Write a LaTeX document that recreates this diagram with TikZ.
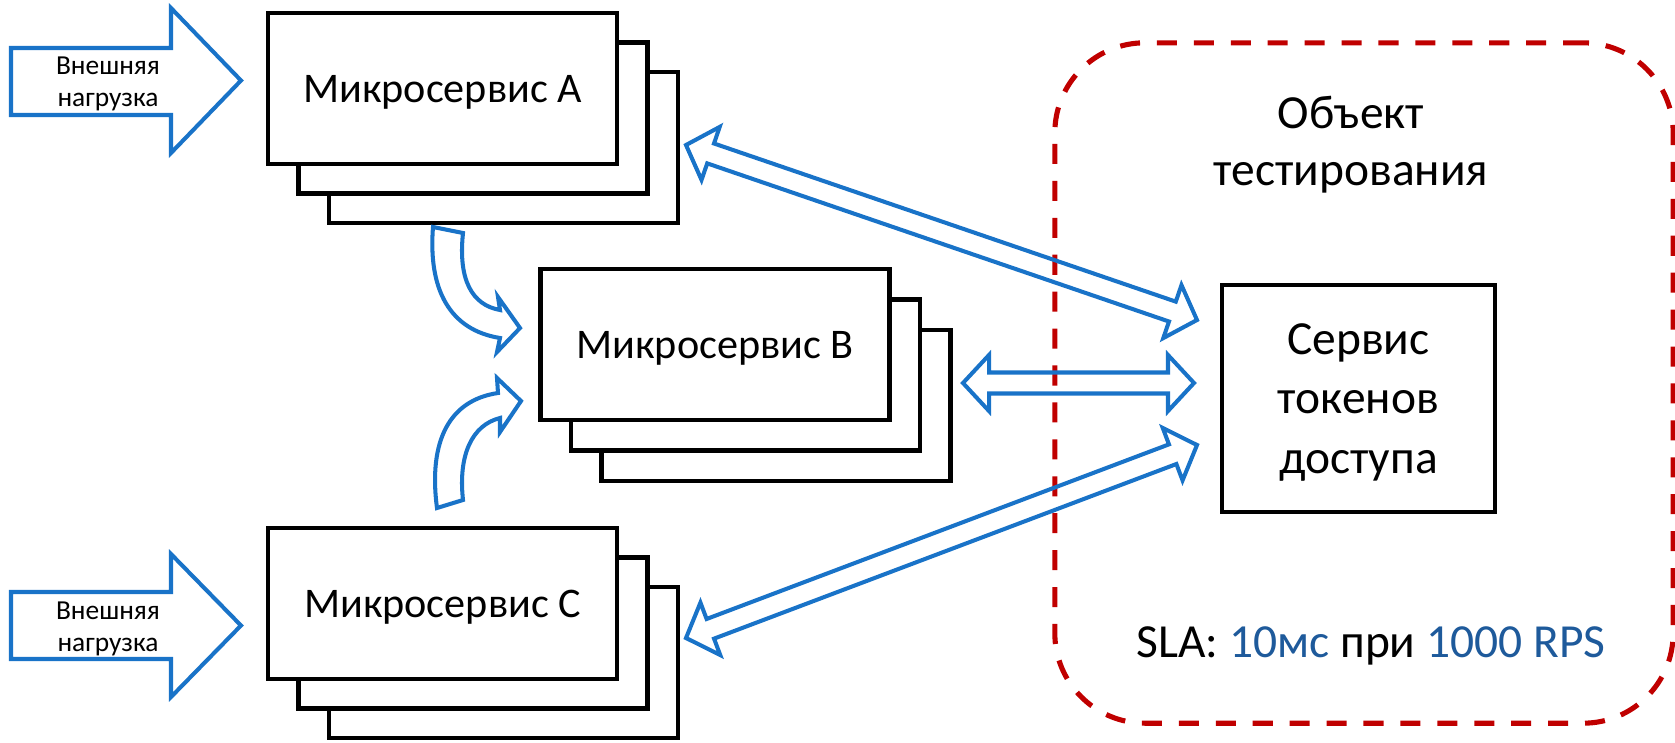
\documentclass[tikz,border=0pt]{standalone}
\usepackage{fontspec}
\setmainfont{Carlito}
\usetikzlibrary{positioning, calc}

\definecolor{loadblue}{RGB}{25,115,200}
\definecolor{slablue}{RGB}{30,90,155}
\definecolor{sutred}{RGB}{192,0,0}

\begin{document}
\begin{tikzpicture}[
        x=0.01cm, y=-0.01cm,
        service/.style={rectangle, draw, line width=1.3pt, fill=white, minimum width=3.49cm, minimum height=1.51cm, text depth=0pt, font=\fontsize{12}{14.4}\selectfont},
        tokensvc/.style={rectangle, draw, line width=1.3pt, minimum width=2.73cm, minimum height=2.27cm, align=center, text depth=0pt, font=\fontsize{13.5}{17}\selectfont},
        sutframe/.style={rectangle, draw=sutred, line width=1.45pt, dash pattern=on 5.7pt off 4.8pt, rounded corners=0.9cm, minimum width=6.18cm, minimum height=6.8cm},
        bigtext/.style={align=center, font=\fontsize{13.5}{16.2}\selectfont},
        loadtext/.style={align=center, font=\fontsize{7.8}{9.3}\selectfont},
        blockarrow/.style={draw=loadblue, line width=1.15pt, line join=miter},
        dblarrow/.style={blockarrow, to path={
            -- ($(\tikztostart)!0.26cm!(\tikztotarget)!0.28cm!90:(\tikztotarget)$)
            -- ($(\tikztostart)!0.26cm!(\tikztotarget)!0.105cm!90:(\tikztotarget)$)
            -- ($(\tikztotarget)!0.26cm!(\tikztostart)!0.105cm!-90:(\tikztostart)$)
            -- ($(\tikztotarget)!0.26cm!(\tikztostart)!0.28cm!-90:(\tikztostart)$)
            -- (\tikztotarget)
            -- ($(\tikztotarget)!0.26cm!(\tikztostart)!0.28cm!90:(\tikztostart)$)
            -- ($(\tikztotarget)!0.26cm!(\tikztostart)!0.105cm!90:(\tikztostart)$)
            -- ($(\tikztostart)!0.26cm!(\tikztotarget)!0.105cm!-90:(\tikztotarget)$)
            -- ($(\tikztostart)!0.26cm!(\tikztotarget)!0.28cm!-90:(\tikztotarget)$)
            -- cycle}}
    ]
        \useasboundingbox (0,0) rectangle (1675,742);

        % Object under test
        \node[sutframe] (sut) at (1364,383) {};
        \node[bigtext] (suttitle) at (1351,145) {Объект\\тестирования};
        \node[bigtext, anchor=base] (sla) at (1371,657) {SLA: \textcolor{slablue}{10мс} при \textcolor{slablue}{1000 RPS}};

        % Token service
        \node[tokensvc] (token) at (1358.5,398.5) {Сервис\\токенов\\доступа};

        % Microservice A
        \node[service] (svcaback) at (503.5,147.5) {};
        \node[service] (svcamid) at ($(svcaback)+(-30.5,-29.5)$) {};
        \node[service] (svca) at ($(svcamid)+(-30.5,-29.5)$) {Микросервис A};

        % Microservice B
        \node[service] (svcbback) at (776,405.5) {};
        \node[service] (svcbmid) at ($(svcbback)+(-30.5,-30.5)$) {};
        \node[service] (svcb) at ($(svcbmid)+(-30.5,-30.5)$) {Микросервис B};

        % Microservice C
        \node[service] (svccback) at (503.5,662.5) {};
        \node[service] (svccmid) at ($(svccback)+(-30.5,-29.5)$) {};
        \node[service] (svcc) at ($(svccmid)+(-30.5,-29.5)$) {Микросервис C};

        % External load
        \draw[blockarrow] (11,48) -- (171,48) -- (171,8) -- (241,80.5) -- (171,153) -- (171,115) -- (11,115) -- cycle;
        \node[loadtext] (loada) at (108,84) {Внешняя\\нагрузка};
        \draw[blockarrow] (11,592) -- (171,592) -- (171,554) -- (241,625.5) -- (171,697) -- (171,659) -- (11,659) -- cycle;
        \node[loadtext] (loadc) at (108,629) {Внешняя\\нагрузка};

        % Calls into microservice B
        \draw[blockarrow] (433,227) -- (463,233) .. controls (458,280) and (472,305) .. (500,310) -- (498,297) -- (520,328) -- (497,352) -- (500,338) .. controls (450,330) and (428,290) .. (433,227) -- cycle;
        \draw[blockarrow] (437,508) -- (463,500) .. controls (458,455) and (472,425) .. (500,418) -- (500,432) -- (521,401) -- (497,378) -- (498,393) .. controls (450,400) and (428,440) .. (437,508) -- cycle;

        % Calls to the token service
        \coordinate (atip) at (686,145);
        \coordinate (btip) at (963,383);
        \coordinate (ctip) at (686,638);
        \coordinate (tokena) at (1197,320);
        \coordinate (tokenb) at (1194,383);
        \coordinate (tokenc) at (1197,445);
        \draw[dblarrow] (atip) to (tokena);
        \draw[dblarrow] (btip) to (tokenb);
        \draw[dblarrow] (ctip) to (tokenc);
\end{tikzpicture}
\end{document}
